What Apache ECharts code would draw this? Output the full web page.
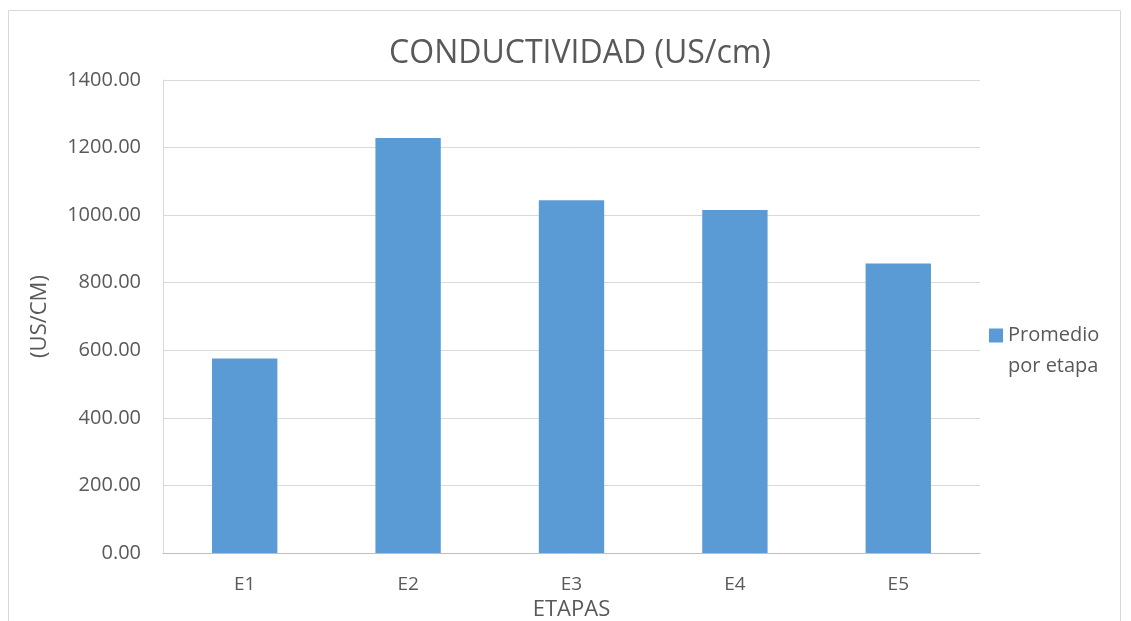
<!DOCTYPE html>
<html>
<head>
<meta charset="utf-8">
<script src="https://cdn.jsdelivr.net/npm/echarts@6/dist/echarts.min.js"></script>
<style>html,body{margin:0;padding:0;background:#fff}#c{width:1131px;height:621px}</style>
</head>
<body>
<div id="c"></div>
<script>
const categories = ["E1", "E2", "E3", "E4", "E5"];
const promedio = [576, 1228, 1044, 1015, 857];
const seriesName = "Promedio\npor etapa";
const titleText = "CONDUCTIVIDAD (US/cm)";
const xName = "ETAPAS";
const yName = "(US/CM)";

const chart = echarts.init(document.getElementById('c'));
const font = "Open Sans, Liberation Sans, sans-serif";
chart.setOption({
  animation: false,
  textStyle: { fontFamily: font },
  graphic: [{
    type: 'rect', shape: { x: 8.5, y: 10.5, width: 1112, height: 620 },
    style: { fill: 'none', stroke: '#d9d9d9', lineWidth: 1 }, silent: true
  }],
  title: {
    text: titleText, left: 575, top: 33, textAlign: 'center',
    textStyle: { fontFamily: font, fontSize: 32, fontWeight: 'normal', color: '#595959' }
  },
  legend: {
    orient: 'vertical', left: 984, top: 315,
    itemWidth: 14, itemHeight: 45, itemGap: 6,
    icon: 'path://M0,0H14V14H0Z M0,44.99H0.01V45H0Z',
    symbolKeepAspect: false,
    textStyle: { fontFamily: font, fontSize: 20, color: '#595959', lineHeight: 31 },
    data: [seriesName]
  },
  grid: { left: 163, top: 80, width: 817, height: 473, containLabel: false, outerBoundsMode: 'none' },
  xAxis: {
    type: 'category', data: categories,
    name: xName, nameLocation: 'middle', nameGap: 44,
    nameTextStyle: { fontFamily: font, fontSize: 22, color: '#595959' },
    axisLine: { lineStyle: { color: '#bfbfbf', width: 1 } },
    axisTick: { show: false },
    axisLabel: { fontSize: 19, color: '#595959', margin: 22, fontFamily: font }
  },
  yAxis: {
    type: 'value', min: 0, max: 1400, interval: 200,
    name: yName, nameLocation: 'middle', nameGap: 112, nameRotate: 90,
    nameTextStyle: { fontFamily: font, fontSize: 22, color: '#595959' },
    axisLine: { show: true, lineStyle: { color: '#d9d9d9', width: 1 } },
    axisTick: { show: false },
    splitLine: { lineStyle: { color: '#d9d9d9', width: 1 } },
    axisLabel: { fontSize: 20, color: '#595959', margin: 22, fontFamily: font,
      formatter: v => v.toFixed(2) }
  },
  series: [{
    name: seriesName, type: 'bar', data: promedio, barWidth: '40%',
    itemStyle: { color: '#5b9bd5' }
  }]
});
</script>
</body>
</html>
